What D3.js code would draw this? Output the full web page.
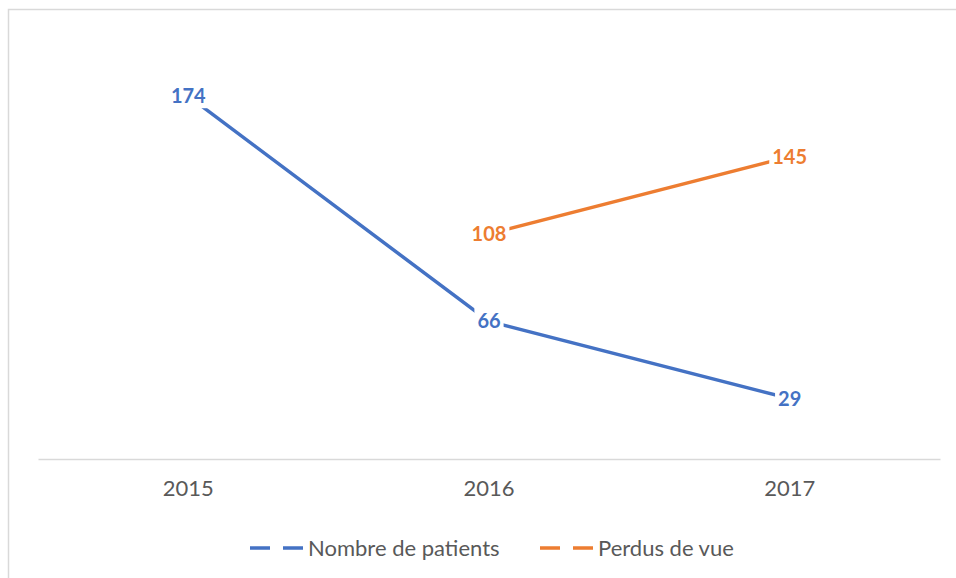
<!DOCTYPE html>
<html>
<head>
<meta charset="utf-8">
<script src="https://cdn.jsdelivr.net/npm/d3@7"></script>
<style>
  body { margin: 0; background: #fff; }
  svg { display: block; font-family: Lato, "Open Sans", sans-serif; }
</style>
</head>
<body>
<div id="chart"></div>
<script>
// Chart data.
const years = ['2015', '2016', '2017'];
const patients = [174, 66, 29];
const perdus = [null, 108, 145];
const seriesNames = ['Nombre de patients', 'Perdus de vue'];
const colors = ['#4472C4', '#ED7D31'];

const width = 956, height = 578;
const svg = d3.select('#chart').append('svg')
    .attr('width', width)
    .attr('height', height);

// Chart border.
svg.append('rect')
    .attr('x', 8.5).attr('y', 9.5)
    .attr('width', 980).attr('height', 600)
    .attr('fill', 'none')
    .attr('stroke', '#d9d9d9')
    .attr('stroke-width', 1.5);

const x = d3.scaleBand().domain(years).range([38, 940]);
const y = d3.scaleLinear().domain([0, 200]).range([459, 42]);

// Category axis.
const xAxis = svg.append('g')
    .attr('transform', `translate(0,${y(0)})`)
    .call(d3.axisBottom(x).tickSize(0).tickPadding(21));
xAxis.select('.domain').attr('stroke', '#d9d9d9').attr('stroke-width', 1.5);
xAxis.selectAll('text')
    .attr('font-family', 'Lato, "Open Sans", sans-serif')
    .attr('font-size', 22)
    .attr('fill', '#595959');

const cx = d => x(d) + x.bandwidth() / 2;
const series = [patients, perdus];

const line = d3.line()
    .defined(d => d.v != null)
    .x(d => cx(d.year))
    .y(d => y(d.v));

series.forEach((vals, i) => {
    const pts = years.map((yr, j) => ({ year: yr, v: vals[j] }));
    svg.append('path')
        .datum(pts)
        .attr('d', line)
        .attr('fill', 'none')
        .attr('stroke', colors[i])
        .attr('stroke-width', 3.5);
});

// Data labels with white boxes behind them.
series.forEach((vals, i) => {
    const pts = years.map((yr, j) => ({ year: yr, v: vals[j] })).filter(d => d.v != null);
    const g = svg.append('g');
    pts.forEach(d => {
        const lg = g.append('g');
        const t = lg.append('text')
            .attr('x', cx(d.year))
            .attr('y', y(d.v))
            .attr('dy', '0.35em')
            .attr('text-anchor', 'middle')
            .attr('font-size', 20)
            .attr('font-weight', 'bold')
            .attr('fill', colors[i])
            .text(d.v);
        const b = t.node().getBBox();
        lg.insert('rect', 'text')
            .attr('x', b.x - 3).attr('y', b.y - 1)
            .attr('width', b.width + 6).attr('height', b.height + 2)
            .attr('fill', '#fff');
    });
});

// Legend.
const legend = svg.append('g').attr('transform', 'translate(0,548)');
const legendX = [250, 540];
seriesNames.forEach((name, i) => {
    const lg = legend.append('g').attr('transform', `translate(${legendX[i]},0)`);
    lg.append('line')
        .attr('x1', 0).attr('x2', 54)
        .attr('stroke', colors[i])
        .attr('stroke-width', 3.5)
        .attr('stroke-dasharray', '20,13');
    lg.append('text')
        .attr('x', 58)
        .attr('dy', '0.35em')
        .attr('font-size', 22)
        .attr('fill', '#595959')
        .text(name);
});
</script>
</body>
</html>
